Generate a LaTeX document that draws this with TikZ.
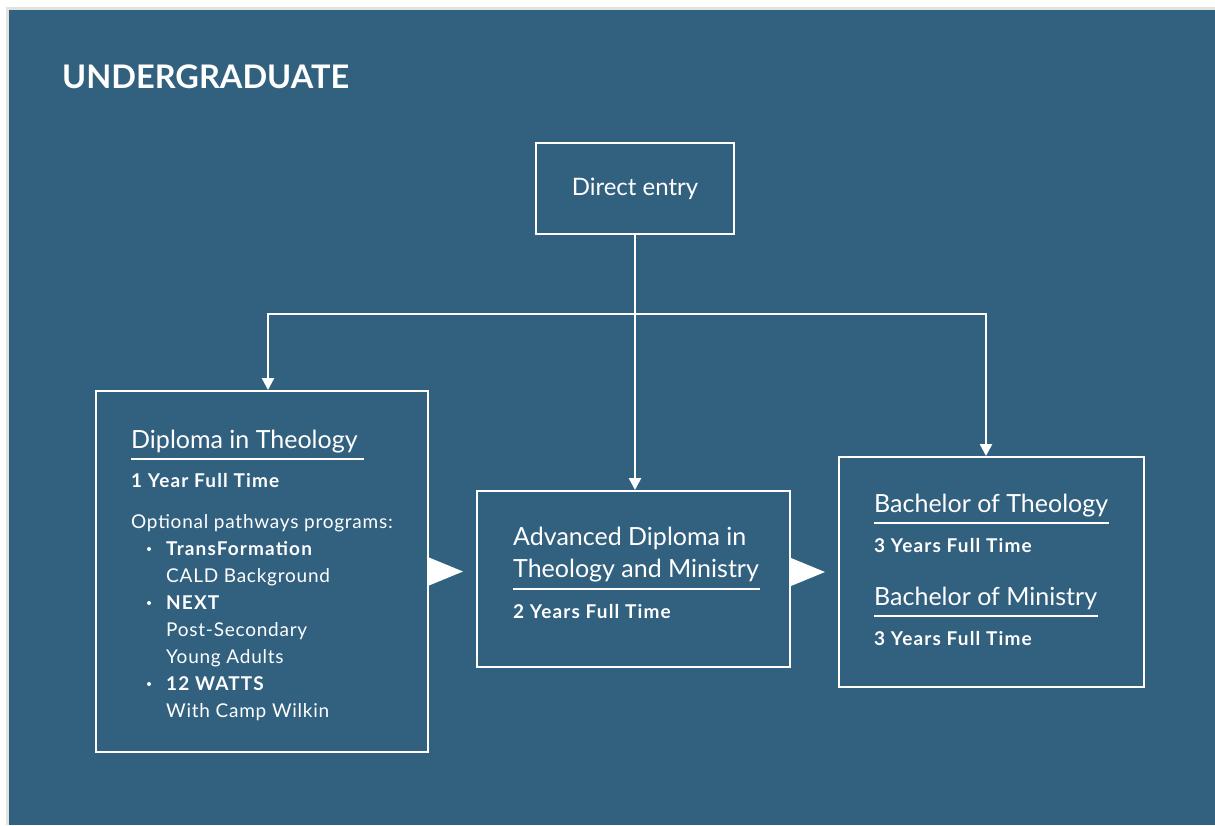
\documentclass[tikz,border=0pt]{standalone}
\usepackage{fontspec}
\setmainfont{Lato}
\usetikzlibrary{arrows.meta,calc}
\definecolor{bg}{RGB}{50,97,128}
\definecolor{edgegrey}{RGB}{226,226,222}
\begin{document}
\begin{tikzpicture}[x=1pt,y=-1pt,
  box/.style={draw=white, line width=2pt, inner sep=0pt, rectangle},
  txt/.style={text=white, inner sep=0pt, anchor=base west},
  headfont/.style={font=\fontsize{25}{29}\selectfont},
  subfont/.style={font=\fontsize{19}{23}\selectfont\bfseries\addfontfeature{LetterSpace=6}},
  bodyfont/.style={font=\fontsize{19}{23}\selectfont\addfontfeature{LetterSpace=4}},
  uline/.style={draw=white, line width=2pt},
  conn/.style={draw=white, line width=2.5pt},
  tip/.style={-{Triangle[width=12pt,length=12pt]}},
  bigtri/.style={fill=white},
  bullet/.style={fill=white, circle, inner sep=0pt, minimum size=4pt}
]
\useasboundingbox (0,0) rectangle (1215,825);
\fill[white] (0,0) rectangle (1215,825);
\fill[edgegrey] (6,7) rectangle (1215,825);
\fill[bg] (9,10) rectangle (1215,825);

\node[txt, font=\fontsize{32.5}{37}\selectfont\bfseries] (title) at (62,88) {UNDERGRADUATE};

% boxes
\node[box, minimum width=198pt, minimum height=91pt, text=white, font=\fontsize{24}{28}\selectfont] (direct) at (635,188.5) {Direct entry};
\node[box, minimum width=332pt, minimum height=361pt] (dip) at (262,571.5) {};
\node[box, minimum width=313pt, minimum height=176pt] (adv) at (633.5,579) {};
\node[box, minimum width=305pt, minimum height=230pt] (bach) at (991.5,572) {};

% connectors
\coordinate (j) at (direct.south |- 0,314);
\draw[conn] (direct.south) -- (j);
\draw[conn, tip] (j) -- (j |- adv.north);
\draw[conn, tip] (j) -| ([xshift=6pt]dip.north);
\draw[conn, tip] (j) -| ([xshift=-5.5pt]bach.north);

% big triangles
\fill[bigtri] ($(dip.east)+(0,-14)$) -- ++(34,14) -- ++(-34,14) -- cycle;
\fill[bigtri] ($(adv.east)+(0,-21)$) -- ++(34,14) -- ++(-34,14) -- cycle;

% Diploma box text
\node[txt, headfont] (dipT) at (131,448) {Diploma in Theology};
\draw[uline] ($(dipT.base west)+(0,11)$) -- ($(dipT.base east)+(6,11)$);
\node[txt, subfont] (dipY) at (131,487) {1 Year Full Time};
\node[txt, bodyfont] (dipO) at (131,528) {Optional pathways programs:};
\node[txt, subfont] (p1) at (166,555) {TransFormation};
\node[txt, bodyfont] (p1b) at (166,582) {CALD Background};
\node[txt, subfont] (p2) at (166,609) {NEXT};
\node[txt, bodyfont] (p2b) at (166,636) {Post-Secondary};
\node[txt, bodyfont] (p2c) at (166,663) {Young Adults};
\node[txt, subfont] (p3) at (166,690) {12 WATTS};
\node[txt, bodyfont] (p3b) at (166,717) {With Camp Wilkin};
\node[bullet] (b1) at (149,549) {};
\node[bullet] (b2) at (149,603) {};
\node[bullet] (b3) at (149,684) {};

% Advanced diploma text
\node[txt, headfont] (advT1) at (513,545) {Advanced Diploma in};
\node[txt, headfont] (advT2) at (513,577) {Theology and Ministry};
\draw[uline] ($(advT2.base west)+(0,12)$) -- ($(advT2.base east)+(1,12)$);
\node[txt, subfont] (advY) at (513,618) {2 Years Full Time};

% Bachelor text
\node[txt, headfont] (bthT) at (874,512) {Bachelor of Theology};
\draw[uline] ($(bthT.base west)+(0,11)$) -- ($(bthT.base east)+(1,11)$);
\node[txt, subfont] (bthY) at (874,552) {3 Years Full Time};
\node[txt, headfont] (bmiT) at (874,605) {Bachelor of Ministry};
\draw[uline] ($(bmiT.base west)+(0,11)$) -- ($(bmiT.base east)+(1,11)$);
\node[txt, subfont] (bmiY) at (874,645) {3 Years Full Time};
\end{tikzpicture}
\end{document}
